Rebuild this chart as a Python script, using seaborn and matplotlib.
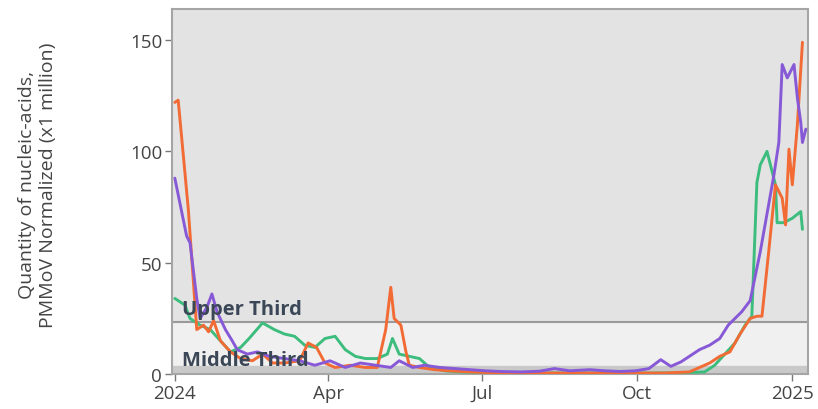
import numpy as np
import pandas as pd
import matplotlib.pyplot as plt
import seaborn as sns

sns.set_style("white")
plt.rcParams['font.family'] = ['Open Sans', 'DejaVu Sans']

start = pd.Timestamp("2024-01-01")

# days after 2024-01-01 and values (x1 million)
orange_days = [0, 2, 8, 13, 17, 20, 23, 27, 33, 39, 46, 52, 58, 65, 74, 79, 84, 89, 95, 104,
               113, 120, 125, 128, 130, 134, 137, 139, 145, 154, 163, 175, 190, 210, 230, 250,
               270, 290, 305, 311, 317, 323, 329, 335, 341, 345, 348, 352, 356, 360, 362, 364,
               366, 369, 372]
orange_vals = [122, 123, 74, 20, 22, 19, 24, 15, 10, 7, 6, 9, 5, 5, 6, 14, 12, 5, 3, 4,
               3, 3, 20, 39, 25, 22, 10, 4, 3, 2, 1.5, 1, 0.6, 0.5, 0.5, 0.5,
               0.5, 0.5, 1, 3, 5, 8, 10, 18, 25, 26, 26, 55, 85, 79, 67, 101,
               85, 112, 149]

purple_days = [0, 7, 9, 13, 15, 19, 22, 25, 30, 34, 37, 43, 49, 56, 65, 74, 83, 92, 101, 110,
               119, 128, 133, 141, 148, 157, 166, 175, 184, 193, 205, 216, 225, 234, 246, 255,
               264, 273, 281, 288, 294, 300, 305, 311, 317, 323, 328, 332, 336, 341, 347, 351,
               355, 358, 360, 363, 367, 369, 371, 372, 374]
purple_vals = [88, 62, 59, 34, 25, 30, 36, 28, 20, 15, 11, 9, 10, 8, 7, 6, 4, 6, 3, 5,
               4, 3, 6, 3, 4, 3, 2.5, 2, 1.5, 1.2, 1, 1.3, 2.5, 1.5, 2, 1.5,
               1.2, 1.5, 2.5, 6.5, 3.5, 5.5, 8, 11, 13, 16, 22, 25, 28, 33, 55, 72,
               89, 104, 139, 133, 139, 124, 113, 104, 110]

green_days = [0, 6, 9, 15, 21, 27, 33, 39, 44, 52, 59, 65, 71, 77, 83, 89, 95, 101, 107, 113,
              120, 126, 129, 133, 139, 145, 151, 160, 169, 190, 220, 250, 280, 300, 314, 320,
              326, 332, 338, 342, 345, 347, 351, 356, 357, 361, 366, 371, 372]
green_vals = [34, 31, 25, 22, 20, 15, 10, 12, 16, 23, 20, 18, 17, 13, 12, 16, 17, 11, 8, 7,
              7, 9, 16, 9, 8, 7, 3, 1.5, 1, 0.6, 0.5, 0.5, 0.5, 0.6, 1, 4,
              9, 14, 22, 26, 86, 94, 100, 85, 68, 68, 70, 73, 65]

series_names = ["green", "orange", "purple"]
series_colors = {"green": "#3dbd7d", "orange": "#f26b35", "purple": "#8759d6"}

upper_third = 23.4
lower_band = 3.6

frames = []
for name, days, vals in [("green", green_days, green_vals),
                         ("orange", orange_days, orange_vals),
                         ("purple", purple_days, purple_vals)]:
    frames.append(pd.DataFrame({"date": start + pd.to_timedelta(days, unit="D"),
                                "value": vals, "series": name}))
df = pd.concat(frames, ignore_index=True)

fig = plt.figure(figsize=(8.18, 4.10), dpi=100)
ax = fig.add_axes([0.210, 0.085, 0.778, 0.891])

ymax = 164
ax.axhspan(upper_third, ymax, color="#e3e3e3", zorder=0)
ax.axhspan(lower_band, upper_third, color="#f0f0f0", zorder=0)
ax.axhspan(0, lower_band, color="#c9c9c9", zorder=0)
ax.axhline(upper_third, color="#9a9a9a", lw=1.5, zorder=1)

sns.lineplot(data=df, x="date", y="value", hue="series", hue_order=series_names,
             palette=series_colors, lw=2.1, legend=False, ax=ax, zorder=3)

ax.text(start + pd.Timedelta(days=4), upper_third + 3.4, "Upper Third", fontsize=14.5,
        fontweight="bold", color="#3b4756", zorder=4)
ax.text(start + pd.Timedelta(days=4), lower_band + 0.5, "Middle Third", fontsize=14.5,
        fontweight="bold", color="#3b4756", zorder=4)

ax.set_xlim(start - pd.Timedelta(days=1.8), start + pd.Timedelta(days=375.4))
ax.set_ylim(0, ymax)
ax.set_yticks([0, 50, 100, 150])
ticks = pd.to_datetime(["2024-01-01", "2024-04-01", "2024-07-01", "2024-10-01", "2025-01-01"])
ax.set_xticks(ticks)
ax.set_xticklabels(["2024", "Apr", "Jul", "Oct", "2025"])

for s in ax.spines.values():
    s.set_color("#a5a5a5")
    s.set_linewidth(1.5)
ax.tick_params(axis="both", length=5, width=1, color="#777777", labelcolor="#444444",
               labelsize=13.5, direction="out", bottom=True, left=True, pad=2)
ax.set_xlabel("")
ax.set_ylabel("Quantity of nucleic-acids,\nPMMoV Normalized (x1 million)",
              fontsize=14, color="#444444")
ax.yaxis.set_label_coords(-0.181, 0.52)

fig.savefig("out.png", dpi=100)
